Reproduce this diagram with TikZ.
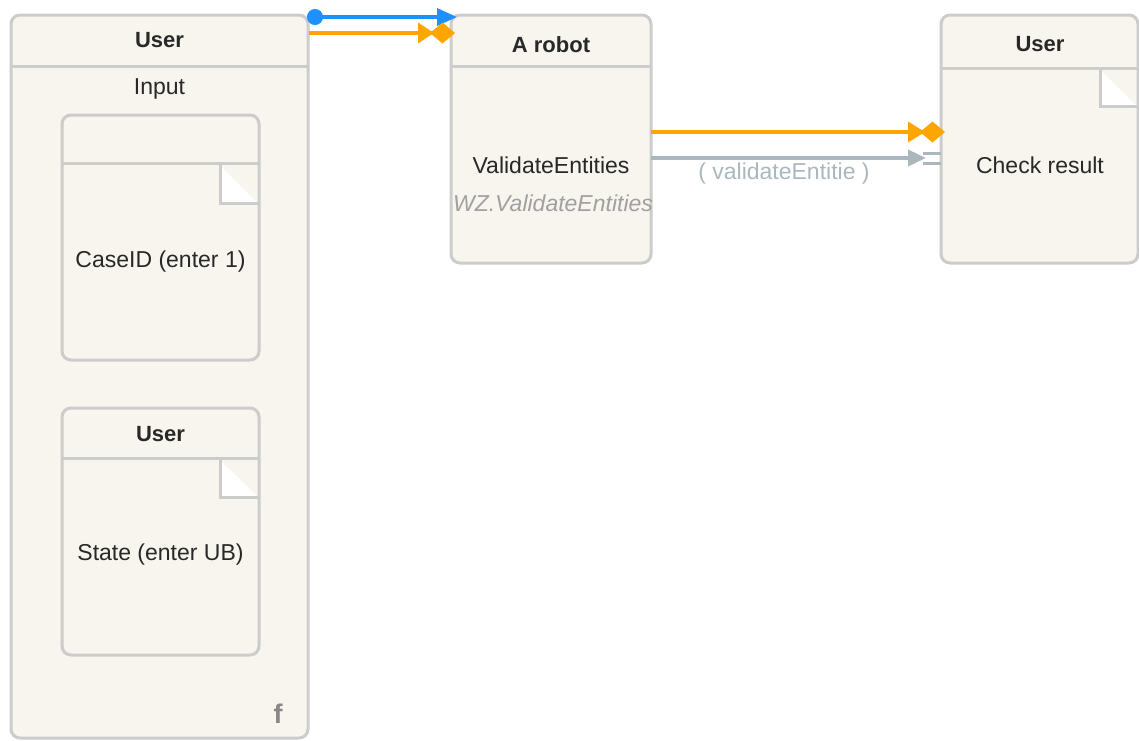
\documentclass[tikz,border=0pt]{standalone}
\usepackage{fontspec}
\setmainfont{Liberation Sans}
\usetikzlibrary{arrows.meta}
\definecolor{boxfill}{RGB}{247,245,238}
\definecolor{boxline}{RGB}{204,204,204}
\definecolor{orng}{RGB}{255,165,0}
\definecolor{blu}{RGB}{30,144,255}
\definecolor{gry}{RGB}{170,184,190}
\definecolor{txt}{RGB}{40,40,40}
\definecolor{ltxt}{RGB}{160,160,160}
\definecolor{ftxt}{RGB}{135,135,135}
\begin{document}
\begin{tikzpicture}[x=1pt,y=-1pt,
  font=\fontsize{23}{27}\selectfont,
  box/.style={draw=boxline, fill=boxfill, line width=3pt, rounded corners=9pt, inner sep=0pt, outer sep=0pt},
  hline/.style={draw=boxline, line width=3pt},
  fold/.style={fill=white},
  foldline/.style={draw=boxline, line width=3pt},
  hdr/.style={text=txt, font=\fontsize{22}{26}\selectfont\bfseries},
  plain/.style={text=txt},
  conn/.style={line width=3.5pt},
]
\useasboundingbox (0,0) rectangle (1139,740);
% boxes
\node[box, minimum width=297pt, minimum height=723pt] (outer) at (159.5,376.5) {};
\draw[hline] (outer.west |- 0,66) -- (outer.east |- 0,66);
\node[box, minimum width=197pt, minimum height=245pt] (inA) at (160.5,237.5) {};
\draw[hline] (inA.west |- 0,163) -- (inA.east |- 0,163);
\node[box, minimum width=197pt, minimum height=247pt] (inB) at (160.5,531.5) {};
\draw[hline] (inB.west |- 0,458) -- (inB.east |- 0,458);
\node[box, minimum width=200pt, minimum height=248pt] (robot) at (551,139) {};
\draw[hline] (robot.west |- 0,66) -- (robot.east |- 0,66);
\node[box, minimum width=197pt, minimum height=248pt] (right) at (1039.5,139) {};
\draw[hline] (right.west |- 0,68) -- (right.east |- 0,68);
% folded corners
\fill[fold] (220,165) -- (220,203) -- (258,203) -- cycle;
\draw[foldline] (220,164) -- (220,203) -- (258,203);
\fill[fold] (220,460) -- (220,497) -- (258,497) -- cycle;
\draw[foldline] (220,459) -- (220,497) -- (258,497);
\fill[fold] (1100,70) -- (1100,106) -- (1137,106) -- cycle;
\draw[foldline] (1100,69) -- (1100,106) -- (1137,106);
% texts
\node[hdr] (t1) at (159.5,40) {User};
\node[plain] (t2) at (159.5,89) {Input};
\node[plain] (t3) at (160.5,262) {CaseID (enter 1)};
\node[hdr] (t4) at (160.5,434) {User};
\node[plain] (t5) at (160.5,555) {State (enter UB)};
\node[text=ftxt, font=\fontsize{27}{30}\selectfont\bfseries] (tf) at (278,714) {f};
\node[hdr] (t6) at (551,45) {A robot};
\node[plain] (t7) at (551,165) {ValidateEntities};
\node[text=ltxt, font=\fontsize{23}{27}\selectfont\itshape] (t8) at (553,203) {WZ.ValidateEntities};
\node[hdr] (t9) at (1040,44) {User};
\node[plain] (t10) at (1040,165) {Check result};
\node[text=gry] (t11) at (784,174) {( validateEntitie )};
% connectors
\draw[conn, blu, {Circle[length=16pt,width=16pt]}-{Triangle[length=20pt,width=17pt]}]
  ([xshift=-1pt]outer.east |- 0,17) -- ([xshift=6pt]robot.west |- 0,17);
\draw[conn, orng, -{Triangle[length=16pt,width=20pt,sep=-4pt] Diamond[length=25pt,width=21pt]}]
  ([xshift=1pt]outer.east |- 0,33) -- ([xshift=4pt]robot.west |- 0,33);
\draw[conn, orng, -{Triangle[length=17pt,width=20pt,sep=-5pt] Diamond[length=25pt,width=21pt]}]
  (robot.east |- 0,132) -- ([xshift=4pt]right.west |- 0,132);
\draw[conn, gry, -{Triangle[length=18pt,width=16pt]}]
  (robot.east |- 0,158) -- ([xshift=-15pt]right.west |- 0,158);
\draw[line width=3pt, gry] ([xshift=-18pt]right.west |- 0,153) -- (right.west |- 0,153);
\draw[line width=3pt, gry] ([xshift=-18pt]right.west |- 0,163) -- (right.west |- 0,163);
\end{tikzpicture}
\end{document}
